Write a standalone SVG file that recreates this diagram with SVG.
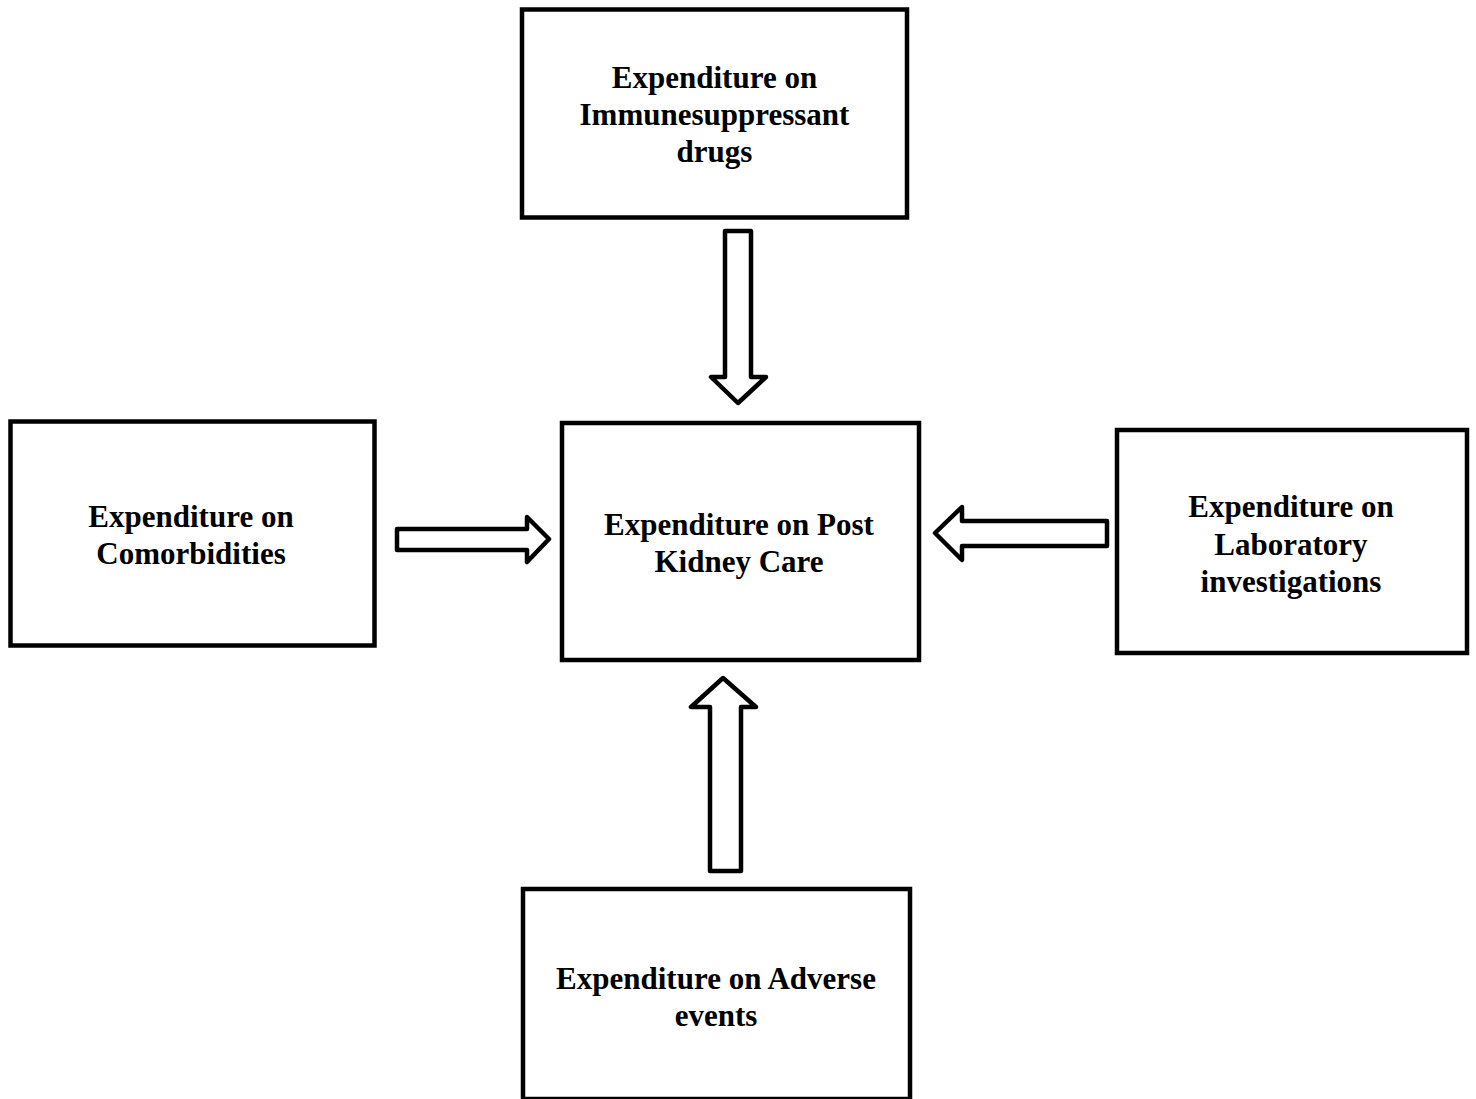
<svg xmlns="http://www.w3.org/2000/svg" width="1476" height="1099" viewBox="0 0 1476 1099">
  <style>
    .box { fill: #ffffff; stroke: #000000; stroke-width: 4.5; }
    .label { font-family: "Liberation Serif", "Times New Roman", serif; font-weight: bold; font-size: 31px; fill: #000000; text-anchor: middle; }
    .arrow { fill: #ffffff; stroke: #000000; stroke-width: 4.5; stroke-linejoin: round; }
  </style>
  <rect x="0" y="0" width="1476" height="1099" fill="#ffffff"/>

  <g id="node-immunosuppressants">
    <rect class="box" x="522" y="9.5" width="385" height="208"/>
    <text class="label" x="714.5" y="88">Expenditure on</text>
    <text class="label" x="714.5" y="125">Immunesuppressant</text>
    <text class="label" x="714.5" y="162">drugs</text>
  </g>

  <g id="node-comorbidities">
    <rect class="box" x="10.5" y="421.5" width="364" height="224"/>
    <text class="label" x="191" y="527">Expenditure on</text>
    <text class="label" x="191" y="564">Comorbidities</text>
  </g>

  <g id="node-post-kidney-care">
    <rect class="box" x="562" y="423" width="357" height="237"/>
    <text class="label" x="739" y="535">Expenditure on Post</text>
    <text class="label" x="739" y="572">Kidney Care</text>
  </g>

  <g id="node-laboratory">
    <rect class="box" x="1117" y="430" width="350" height="223"/>
    <text class="label" x="1291" y="517">Expenditure on</text>
    <text class="label" x="1291" y="555">Laboratory</text>
    <text class="label" x="1291" y="592">investigations</text>
  </g>

  <g id="node-adverse-events">
    <rect class="box" x="523" y="889" width="387" height="210"/>
    <text class="label" x="716" y="989">Expenditure on Adverse</text>
    <text class="label" x="716" y="1026">events</text>
  </g>

  <g id="connectors">
    <!-- block arrow down from the top box -->
    <path class="arrow" d="M725,231 L751,231 L751,377 L766,377 L738,403 L711,377 L725,377 Z"/>
    <!-- block arrow right from the left box -->
    <path class="arrow" d="M397,529 L527,529 L527,517 L549,539 L527,562 L527,550 L397,550 Z"/>
    <!-- block arrow left from the right box -->
    <path class="arrow" d="M1107,521 L962,521 L962,507 L935,533 L962,560 L962,546 L1107,546 Z"/>
    <!-- block arrow up from the bottom box -->
    <path class="arrow" d="M710,871 L741,871 L741,707 L756,707 L723,678 L691,707 L710,707 Z"/>
  </g>
</svg>
